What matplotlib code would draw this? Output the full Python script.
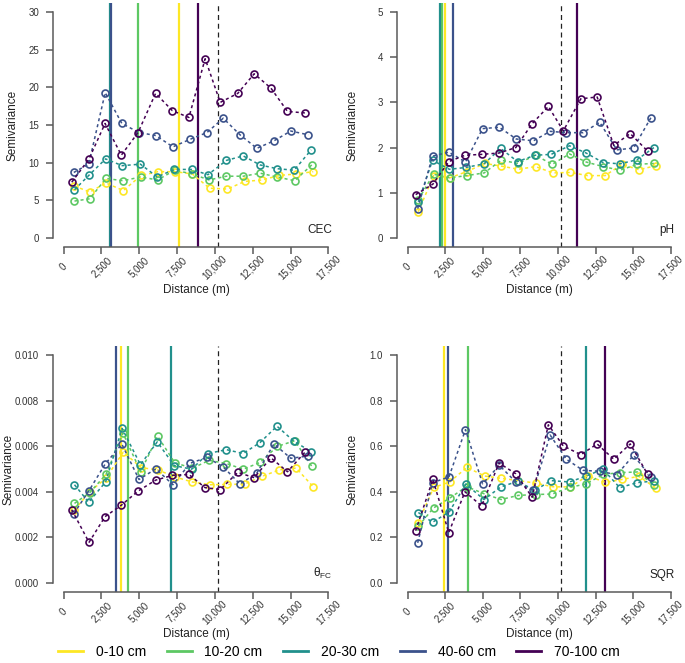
import numpy as np
import matplotlib
matplotlib.use('Agg')
import matplotlib.pyplot as plt
from matplotlib.lines import Line2D

plt.rcParams['font.family'] = ['Liberation Sans', 'DejaVu Sans']
plt.rcParams['mathtext.fontset'] = 'custom'
plt.rcParams['mathtext.rm'] = 'Liberation Sans'

depths = ['0-10 cm', '10-20 cm', '20-30 cm', '40-60 cm', '70-100 cm']
colors = ['#FDE725', '#5DC863', '#21908C', '#3B528B', '#440154']

# lag distances (m) for each depth
lags = [
    [710, 1735, 2800, 3945, 5130, 6235, 7365, 8505, 9650, 10825, 11965, 13125, 14250, 15370, 16495],
    [720, 1725, 2800, 3925, 5095, 6215, 7340, 8505, 9610, 10760, 11875, 12990, 14110, 15270, 16400],
    [720, 1660, 2775, 3870, 5075, 6190, 7310, 8460, 9540, 10760, 11865, 12980, 14100, 15235, 16365],
    [675, 1660, 2750, 3850, 4985, 6100, 7220, 8360, 9475, 10550, 11655, 12770, 13900, 15015, 16165],
    [540, 1680, 2740, 3815, 4920, 6080, 7190, 8280, 9355, 10350, 11510, 12595, 13700, 14795, 15955],
]

cec = [
    [6.9, 6.1, 7.3, 6.3, 8.3, 8.8, 8.8, 8.5, 6.6, 6.5, 7.5, 7.7, 8.3, 8.5, 8.8],
    [4.9, 5.2, 7.9, 7.6, 8.1, 7.7, 9.0, 8.5, 7.7, 8.2, 8.2, 8.6, 8.1, 7.6, 9.7],
    [6.4, 8.3, 10.5, 9.6, 9.8, 8.1, 9.1, 9.1, 8.4, 10.3, 10.9, 9.7, 9.2, 9.0, 11.7],
    [8.7, 9.8, 19.3, 15.2, 14.0, 13.6, 12.1, 13.1, 14.0, 15.9, 13.7, 11.9, 12.9, 14.2, 13.7],
    [7.4, 10.5, 15.2, 11.0, 14.0, 19.2, 16.9, 16.0, 23.8, 18.0, 19.2, 21.8, 19.9, 16.8, 16.6],
]
ph = [
    [0.58, 1.38, 1.33, 1.47, 1.65, 1.59, 1.52, 1.58, 1.44, 1.45, 1.38, 1.38, 1.63, 1.51, 1.60],
    [0.85, 1.41, 1.33, 1.38, 1.44, 1.72, 1.65, 1.83, 1.63, 1.86, 1.68, 1.58, 1.50, 1.63, 1.65],
    [0.80, 1.72, 1.52, 1.56, 1.64, 1.98, 1.69, 1.83, 1.85, 2.04, 1.88, 1.67, 1.64, 1.73, 2.00],
    [0.65, 1.81, 1.90, 1.68, 2.42, 2.45, 2.19, 2.15, 2.36, 2.33, 2.33, 2.56, 1.95, 1.99, 2.66],
    [0.96, 1.19, 1.69, 1.83, 1.85, 1.88, 2.00, 2.53, 2.91, 2.37, 3.08, 3.12, 2.05, 2.31, 1.92],
]
theta_fc = [
    [0.0032, 0.0040, 0.0046, 0.00574, 0.00506, 0.00496, 0.00465, 0.00443, 0.00431, 0.00432, 0.00434, 0.00468, 0.00496, 0.00504, 0.00422],
    [0.00349, 0.00396, 0.00476, 0.00657, 0.00488, 0.00644, 0.00528, 0.00503, 0.00538, 0.00524, 0.00499, 0.00529, 0.00599, 0.00624, 0.00512],
    [0.00431, 0.00354, 0.00443, 0.00678, 0.00519, 0.00619, 0.00515, 0.00499, 0.00568, 0.00585, 0.00568, 0.00616, 0.00688, 0.00621, 0.00576],
    [0.00304, 0.00403, 0.00522, 0.00609, 0.00454, 0.00501, 0.00431, 0.00525, 0.00551, 0.00509, 0.00434, 0.00482, 0.00610, 0.00547, 0.00557],
    [0.00321, 0.00178, 0.00291, 0.00341, 0.00403, 0.00451, 0.00472, 0.00476, 0.00418, 0.00410, 0.00485, 0.00462, 0.00549, 0.00488, 0.00574],
]
sqr = [
    [0.265, 0.419, 0.443, 0.507, 0.469, 0.459, 0.449, 0.438, 0.422, 0.421, 0.471, 0.441, 0.454, 0.468, 0.416],
    [0.249, 0.329, 0.372, 0.423, 0.391, 0.366, 0.384, 0.388, 0.390, 0.419, 0.435, 0.476, 0.484, 0.487, 0.428],
    [0.309, 0.266, 0.312, 0.434, 0.366, 0.421, 0.446, 0.406, 0.449, 0.443, 0.469, 0.499, 0.418, 0.440, 0.447],
    [0.176, 0.440, 0.465, 0.673, 0.435, 0.516, 0.441, 0.407, 0.649, 0.543, 0.494, 0.490, 0.475, 0.560, 0.465],
    [0.229, 0.454, 0.221, 0.400, 0.338, 0.526, 0.479, 0.376, 0.694, 0.601, 0.563, 0.610, 0.543, 0.610, 0.476],
]

# fitted ranges (m), None = not shown
cec_range = [7616, 4945, 3090, 3150, 8896]
ph_range = [2459, 2282, 2149, 3035, 11254]
theta_range = [3819, 4282, 7085, 3466, None]
sqr_range = [2415, 4032, 11874, 2703, 13137]
max_dist = 10200

x_ticks = np.arange(0, 17501, 2500)
axis_col = '#5a5a5a'


def draw(ax, values, ranges, yticks, ylabels, label):
    ymax = yticks[-1]
    for r, c in zip(ranges, colors):
        if r is not None:
            ax.axvline(r, color=c, lw=1.6, zorder=1)
    ax.axvline(max_dist, color='#222222', lw=0.9, ls=(0, (4, 3)), zorder=1.5)
    for x, y, c in zip(lags, values, colors):
        ax.plot(x, y, color=c, ls=(0, (2, 2)), lw=1.1, marker='o', ms=5,
                mfc='none', mec=c, mew=1.2, zorder=2)

    ax.set_xlim(-700, 18200)
    ax.set_ylim(-0.04 * ymax, 1.04 * ymax)
    for s in ['top', 'right']:
        ax.spines[s].set_visible(False)
    ax.spines['left'].set_bounds(0, ymax)
    ax.spines['bottom'].set_bounds(0, 17500)
    for s in ['left', 'bottom']:
        ax.spines[s].set_color(axis_col)
        ax.spines[s].set_linewidth(1.1)

    ax.set_xticks(x_ticks)
    ax.set_xticklabels([f'{int(t):,}' for t in x_ticks])
    ax.set_yticks(yticks)
    ax.set_yticklabels(ylabels)
    ax.tick_params(axis='x', length=5, width=1.1, color=axis_col, labelsize=7,
                   labelcolor='#333333', pad=9.5)
    ax.tick_params(axis='y', length=5, width=1.1, color=axis_col, labelsize=7,
                   labelcolor='#333333', pad=5)
    for lbl in ax.get_xticklabels():
        lbl.set_rotation(45)
        lbl.set_ha('center')
        lbl.set_va('center')
        lbl.set_rotation_mode('anchor')

    ax.set_xlabel('Distance (m)', fontsize=8.5, color='#222222')
    ax.set_ylabel('Semivariance', fontsize=8.5, color='#222222')
    ax.text(0.975, 0.045, label, transform=ax.transAxes, ha='right', va='bottom',
            fontsize=8.5, color='#222222')


W, H = 685, 663
fig = plt.figure(figsize=(W / 100, H / 100), dpi=100)


def box(left, right, top, bottom):
    return [left / W, 1 - bottom / H, (right - left) / W, (bottom - top) / H]


ax1 = fig.add_axes(box(53, 339, 3, 247))
ax2 = fig.add_axes(box(397, 681.5, 3, 247))
ax3 = fig.add_axes(box(53, 339, 346, 592))
ax4 = fig.add_axes(box(397, 681.5, 346, 592))

draw(ax1, cec, cec_range, np.arange(0, 31, 5), [str(v) for v in range(0, 31, 5)], 'CEC')
draw(ax2, ph, ph_range, np.arange(0, 6, 1), [str(v) for v in range(0, 6)], 'pH')
draw(ax3, theta_fc, theta_range, np.arange(0, 0.0101, 0.002),
     ['0.000', '0.002', '0.004', '0.006', '0.008', '0.010'], r'θ$_{\mathrm{FC}}$')
draw(ax4, sqr, sqr_range, np.arange(0, 1.01, 0.2),
     ['0.0', '0.2', '0.4', '0.6', '0.8', '1.0'], 'SQR')

ax1.yaxis.set_label_coords(-0.122, 0.5)
ax2.yaxis.set_label_coords(-0.134, 0.5)
ax3.yaxis.set_label_coords(-0.133, 0.5)
ax4.yaxis.set_label_coords(-0.137, 0.5)
ax1.xaxis.set_label_coords(0.5, -0.152)
ax2.xaxis.set_label_coords(0.5, -0.152)
ax3.xaxis.set_label_coords(0.5, -0.147)
ax4.xaxis.set_label_coords(0.5, -0.147)

handles = [Line2D([], [], color=c, lw=2) for c in colors]
fig.legend(handles, depths, loc='center', bbox_to_anchor=(0.495, 11 / H), ncol=5,
           frameon=False, fontsize=10, handlelength=1.8, handletextpad=0.9,
           columnspacing=1.5, borderpad=0.2)

fig.savefig('out.png', dpi=100)
